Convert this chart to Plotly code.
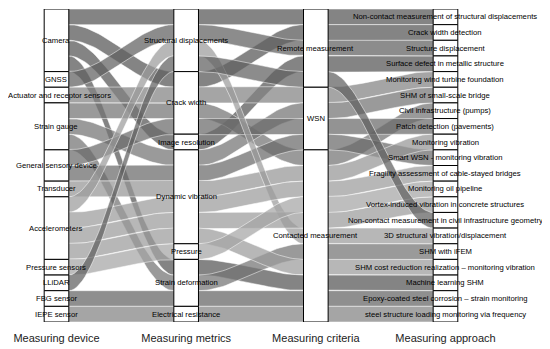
import numpy as np
import plotly.graph_objects as go

# ---------------- data ----------------
axis_titles = ["Measuring device", "Measuring metrics", "Measuring criteria", "Measuring approach"]

devices = ["Camera", "GNSS", "Actuator and receptor sensors", "Strain gauge",
           "General sensory device", "Transducer", "Accelerometers", "Pressure sensors",
           "LLiDAR", "FBG sensor", "IEPE sensor"]
metrics = ["Structural displacements", "Crack width", "Image resolution", "Dynamic vibration",
           "Pressure", "Strain deformation", "Electrical resistance"]
criteria = ["Remote measurement", "WSN", "Contacted measurement"]
approaches = [
    "Non-contact measurement of structural displacements",
    "Crack width detection",
    "Structure displacement",
    "Surface defect in metallic structure",
    "Monitoring wind turbine foundation",
    "SHM of small-scale bridge",
    "Civil infrastructure (pumps)",
    "Patch detection (pavements)",
    "Monitoring vibration",
    "Smart WSN - monitoring vibration",
    "Fragility assessment of cable-stayed bridges",
    "Monitoring oil pipeline",
    "Vortex-induced vibration in concrete structures",
    "Non-contact measurement in civil infrastructure geometry",
    "3D structural vibration/displacement",
    "SHM with iFEM",
    "SHM cost reduction realization \u2013 monitoring vibration",
    "Machine learning SHM",
    "Epoxy-coated steel corrosion \u2013 strain monitoring",
    "steel structure loading monitoring via frequency",
]

# one entry per study (alluvium)
study_device = ["Camera", "Camera", "Camera", "Camera", "GNSS", "Actuator and receptor sensors",
                "Strain gauge", "Strain gauge", "Strain gauge", "General sensory device",
                "General sensory device", "Transducer", "Accelerometers", "Accelerometers",
                "Accelerometers", "Accelerometers", "Pressure sensors", "LLiDAR", "FBG sensor",
                "IEPE sensor"]
study_metric = ["Structural displacements", "Crack width", "Image resolution", "Strain deformation",
                "Structural displacements", "Crack width", "Crack width", "Dynamic vibration",
                "Strain deformation", "Crack width", "Dynamic vibration", "Dynamic vibration",
                "Structural displacements", "Dynamic vibration", "Dynamic vibration",
                "Dynamic vibration", "Pressure", "Structural displacements", "Strain deformation",
                "Electrical resistance"]
study_criteria = ["Remote measurement", "Remote measurement", "Remote measurement",
                  "Contacted measurement", "Remote measurement", "WSN", "Contacted measurement",
                  "WSN", "Contacted measurement", "WSN", "WSN", "Contacted measurement",
                  "Contacted measurement", "Contacted measurement", "Contacted measurement",
                  "Contacted measurement", "Contacted measurement", "Remote measurement",
                  "Contacted measurement", "Contacted measurement"]
study_approach = [
    "Non-contact measurement of structural displacements",
    "Crack width detection",
    "Surface defect in metallic structure",
    "Machine learning SHM",
    "Structure displacement",
    "Monitoring wind turbine foundation",
    "Civil infrastructure (pumps)",
    "SHM of small-scale bridge",
    "SHM with iFEM",
    "Patch detection (pavements)",
    "Smart WSN - monitoring vibration",
    "Monitoring vibration",
    "3D structural vibration/displacement",
    "Fragility assessment of cable-stayed bridges",
    "Vortex-induced vibration in concrete structures",
    "SHM cost reduction realization \u2013 monitoring vibration",
    "Monitoring oil pipeline",
    "Non-contact measurement in civil infrastructure geometry",
    "Epoxy-coated steel corrosion \u2013 strain monitoring",
    "steel structure loading monitoring via frequency",
]
study_count = [1] * 20

# ---------------- styling ----------------
device_grey = {
    "Camera": (85, 85, 85), "GNSS": (95, 95, 95),
    "Actuator and receptor sensors": (130, 130, 130), "Strain gauge": (115, 115, 115),
    "General sensory device": (105, 105, 105), "Transducer": (150, 150, 150),
    "Accelerometers": (155, 155, 155), "Pressure sensors": (165, 165, 165),
    "LLiDAR": (95, 95, 95), "FBG sensor": (100, 100, 100), "IEPE sensor": (130, 130, 130),
}
ALPHA = 0.72
BOX_W = 0.19
FONT = "Liberation Sans, Arial, sans-serif"
LABEL_SIZE = 7.7

levels = [devices, metrics, criteria, approaches]
cols = [study_device, study_metric, study_criteria, study_approach]
n_ax = len(levels)
n = len(study_count)
total = sum(study_count)

# stratum extents (first level at top)
strata = []
for a in range(n_ax):
    ext = {}
    top = total
    for lev in levels[a]:
        s = sum(c for c, v in zip(study_count, cols[a]) if v == lev)
        if s > 0:
            ext[lev] = (top - s, top)
        top -= s
    strata.append(ext)

# zigzag lode guidance
def zigzag(i, m):
    order = []
    left, right = i - 1, i + 1
    go_left = i <= (m - 1 - i)
    while left >= 0 or right < m:
        if go_left and left >= 0:
            order.append(left); left -= 1
        elif not go_left and right < m:
            order.append(right); right += 1
        elif left >= 0:
            order.append(left); left -= 1
        else:
            order.append(right); right += 1
        go_left = not go_left
    return order

idx = [{lev: k for k, lev in enumerate(levels[a])} for a in range(n_ax)]
lodes = [[None] * n_ax for _ in range(n)]
for a in range(n_ax):
    oth = zigzag(a, n_ax)
    keys = sorted(range(n), key=lambda r: [idx[a][cols[a][r]]] + [idx[o][cols[o][r]] for o in oth] + [r])
    pos = {lev: strata[a][lev][1] for lev in strata[a]}
    for r in keys:
        lev = cols[a][r]
        hi = pos[lev]
        lo = hi - study_count[r]
        pos[lev] = lo
        lodes[r][a] = (lo, hi)

xs = [1, 2, 3, 4]
fig = go.Figure()
t = np.linspace(0, 1, 40)
sm = 3 * t ** 2 - 2 * t ** 3
for r in range(n):
    tx, ty, bx, by = [], [], [], []
    for a in range(n_ax):
        lo, hi = lodes[r][a]
        tx += [xs[a] - BOX_W / 2, xs[a] + BOX_W / 2]
        ty += [hi, hi]
        bx += [xs[a] - BOX_W / 2, xs[a] + BOX_W / 2]
        by += [lo, lo]
        if a < n_ax - 1:
            lo2, hi2 = lodes[r][a + 1]
            x0, x1 = xs[a] + BOX_W / 2, xs[a + 1] - BOX_W / 2
            cx = x0 + (x1 - x0) * t[1:-1]
            tx += list(cx); ty += list(hi + (hi2 - hi) * sm[1:-1])
            bx += list(cx); by += list(lo + (lo2 - lo) * sm[1:-1])
    px = tx + bx[::-1] + [tx[0]]
    py = ty + by[::-1] + [ty[0]]
    g = device_grey[study_device[r]]
    fig.add_trace(go.Scatter(x=px, y=py, mode="lines", fill="toself",
                             fillcolor=f"rgba({g[0]},{g[1]},{g[2]},{ALPHA})",
                             line=dict(width=0.6, color="rgba(255,255,255,0.85)"),
                             hoverinfo="skip", showlegend=False))

shapes, annotations = [], []
for a in range(n_ax):
    for lev, (lo, hi) in strata[a].items():
        shapes.append(dict(type="rect", xref="x", yref="y", x0=xs[a] - BOX_W / 2, x1=xs[a] + BOX_W / 2,
                           y0=lo, y1=hi, fillcolor="white", line=dict(color="black", width=1),
                           layer="above"))
        # keep the widest first-axis label inside the page edge
        shift = 3 if (a == 0 and len(lev) > 25) else 0
        annotations.append(dict(x=xs[a], y=(lo + hi) / 2, xref="x", yref="y", text=lev,
                                showarrow=False, xshift=shift,
                                font=dict(family=FONT, size=LABEL_SIZE, color="black")))

# the page body adds an 8px offset, so the figure is drawn slightly smaller
fig.update_layout(
    width=542, height=341,
    margin=dict(l=0, r=0, t=1, b=27),
    paper_bgcolor="white", plot_bgcolor="white",
    shapes=shapes, annotations=annotations,
    xaxis=dict(range=[0.626, 4.806], tickvals=xs, ticktext=axis_titles, showgrid=False,
               zeroline=False, showline=False, ticks="", ticklabelstandoff=8,
               tickfont=dict(family=FONT, size=11, color="#222"), fixedrange=True),
    yaxis=dict(range=[0, total], visible=False, showgrid=False, zeroline=False, fixedrange=True),
)
fig.write_html("out.html")
